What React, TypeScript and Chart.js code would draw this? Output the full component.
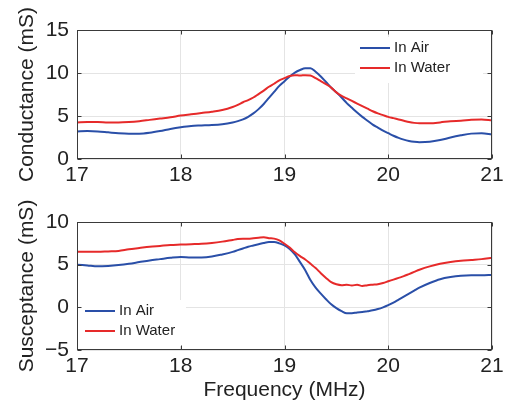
import React, { useEffect, useRef } from "react";
import { Chart, registerables } from "chart.js";
Chart.register(...registerables);

// ---------------- data ----------------
const freq = [
  17.0, 17.1, 17.2, 17.3, 17.4, 17.5, 17.6, 17.7, 17.8, 17.9,
  18.0, 18.1, 18.2, 18.3, 18.4,
  18.5, 18.55, 18.6, 18.65, 18.7, 18.75, 18.8, 18.85, 18.9, 18.95,
  19.0, 19.05, 19.1, 19.15, 19.2, 19.25, 19.3, 19.35, 19.4, 19.45,
  19.5, 19.55, 19.6, 19.65, 19.7, 19.75, 19.8, 19.85, 19.9, 19.95,
  20.0, 20.05, 20.1, 20.15, 20.2, 20.25, 20.3,
  20.4, 20.5, 20.6, 20.7, 20.8, 20.9, 21.0,
];
const condAir = [
  3.2, 3.25, 3.2, 3.1, 3.0, 2.95, 2.95, 3.05, 3.25, 3.5,
  3.7, 3.85, 3.9, 3.95, 4.05,
  4.25, 4.4, 4.6, 4.9, 5.3, 5.8, 6.4, 7.1, 7.8, 8.5,
  9.05, 9.6, 10.05, 10.35, 10.55, 10.55, 10.15, 9.6, 8.95, 8.3,
  7.75, 7.15, 6.5, 5.95, 5.4, 4.9, 4.45, 4.0, 3.65, 3.3,
  3.0, 2.7, 2.45, 2.25, 2.1, 2.0, 1.95,
  2.0, 2.2, 2.5, 2.75, 2.95, 3.0, 2.85,
];
const condWater = [
  4.25, 4.3, 4.3, 4.25, 4.25, 4.3, 4.4, 4.55, 4.7, 4.85,
  5.05, 5.2, 5.35, 5.5, 5.7,
  6.05, 6.3, 6.6, 6.85, 7.15, 7.55, 7.95, 8.4, 8.75, 9.15,
  9.4, 9.65, 9.75, 9.7, 9.75, 9.7, 9.4, 9.05, 8.7, 8.3,
  7.75, 7.35, 7.05, 6.75, 6.45, 6.15, 5.85, 5.55, 5.3, 5.1,
  4.9, 4.75, 4.6, 4.45, 4.3, 4.2, 4.15,
  4.15, 4.25, 4.4, 4.45, 4.55, 4.6, 4.5,
];
const suscAir = [
  5.0, 4.9, 4.8, 4.85, 4.95, 5.1, 5.3, 5.5, 5.65, 5.8,
  5.9, 5.85, 5.85, 5.95, 6.2,
  6.5, 6.7, 6.9, 7.1, 7.25, 7.4, 7.55, 7.65, 7.65, 7.5,
  7.25, 6.85, 6.2, 5.3, 4.35, 3.2, 2.3, 1.6, 0.95, 0.35,
  -0.1, -0.45, -0.7, -0.7, -0.6, -0.55, -0.45, -0.35, -0.2, 0.0,
  0.25, 0.55, 0.9, 1.25, 1.6, 1.95, 2.3,
  2.85, 3.3, 3.55, 3.7, 3.75, 3.75, 3.8,
];
const suscWater = [
  6.5, 6.5, 6.5, 6.55, 6.6, 6.8, 6.95, 7.1, 7.2, 7.3,
  7.35, 7.4, 7.45, 7.55, 7.7,
  7.9, 8.0, 8.05, 8.05, 8.1, 8.15, 8.2, 8.1, 8.05, 7.85,
  7.45, 7.0, 6.45, 6.0, 5.6, 5.1, 4.6, 4.0, 3.45, 2.95,
  2.7, 2.6, 2.65, 2.55, 2.65, 2.5, 2.6, 2.65, 2.7, 2.85,
  3.05, 3.25, 3.45, 3.65, 3.9, 4.15, 4.4,
  4.8, 5.1, 5.3, 5.45, 5.55, 5.65, 5.8,
];
const seriesLabels = ["In Air", "In Water"];
const xTicks = [17, 18, 19, 20, 21];
const condTicks = [0, 5, 10, 15];
const suscTicks = [-5, 0, 5, 10];
const xTitle = "Frequency (MHz)";
const condTitle = "Conductance (mS)";
const suscTitle = "Susceptance (mS)";

// ---------------- styles ----------------
const BLUE = "#2a4fa8";
const RED = "#e62a2a";
const FONT = "'Liberation Sans', Arial, Helvetica, sans-serif";
const W = 509;

const fmt = (v: number) => (v < 0 ? "\u2212" + Math.abs(v) : String(v));

function makeFramePlugin() {
  return {
    id: "frame",
    afterDraw(chart: any) {
      const { ctx, chartArea: a, scales } = chart;
      ctx.save();
      ctx.strokeStyle = "#3a3a3a";
      ctx.lineWidth = 1;
      const l = Math.round(a.left) + 0.5;
      const r = Math.round(a.right) - 0.5;
      const t = Math.round(a.top) + 0.5;
      const b = Math.round(a.bottom) - 0.5;
      ctx.strokeRect(l, t, r - l, b - t);
      const tl = 4;
      ctx.beginPath();
      scales.x.ticks.forEach((tk: any) => {
        const px = Math.round(scales.x.getPixelForValue(tk.value)) + 0.5;
        ctx.moveTo(px, b); ctx.lineTo(px, b - tl);
        ctx.moveTo(px, t); ctx.lineTo(px, t + tl);
      });
      scales.y.ticks.forEach((tk: any) => {
        const py = Math.round(scales.y.getPixelForValue(tk.value)) + 0.5;
        ctx.moveTo(l, py); ctx.lineTo(l + tl, py);
        ctx.moveTo(r, py); ctx.lineTo(r - tl, py);
      });
      ctx.stroke();
      ctx.restore();
    },
  };
}

function makeLegendPlugin(anchor: "topRight" | "bottomLeft") {
  return {
    id: "boxLegend",
    afterDatasetsDraw(chart: any) {
      const { ctx, chartArea: a } = chart;
      const ds = chart.data.datasets;
      let x0: number, y0: number, boxW: number;
      const boxH = 46;
      if (anchor === "topRight") {
        x0 = a.right - 137;
        y0 = a.top + 7;
        boxW = 128;
      } else {
        x0 = a.left + 3;
        y0 = a.bottom - 50;
        boxW = 106;
      }
      ctx.save();
      ctx.fillStyle = "#ffffff";
      ctx.fillRect(x0, y0, boxW, boxH);
      ctx.font = "15px " + FONT;
      ctx.textBaseline = "middle";
      ctx.textAlign = "left";
      [0, 1].forEach((i, k) => {
        const y = y0 + 11 + k * 20;
        ctx.strokeStyle = ds[i].borderColor;
        ctx.lineWidth = 2;
        ctx.beginPath();
        ctx.moveTo(x0 + 5, y);
        ctx.lineTo(x0 + 35, y);
        ctx.stroke();
        ctx.fillStyle = "#222222";
        ctx.fillText(ds[i].label, x0 + 39, y);
      });
      ctx.restore();
    },
  };
}

function buildChart(
  canvas: HTMLCanvasElement,
  air: number[],
  water: number[],
  yTicks: number[],
  yTitle: string,
  showXTitle: boolean,
  padTop: number,
  xAxisH: number,
  legendAnchor: "topRight" | "bottomLeft"
) {
  const mk = (vals: number[]) => freq.map((f, i) => ({ x: f, y: vals[i] }));
  return new Chart(canvas, {
    type: "line",
    data: {
      datasets: [
        {
          label: seriesLabels[0],
          data: mk(air),
          borderColor: BLUE,
          backgroundColor: BLUE,
          borderWidth: 2,
          pointRadius: 0,
          cubicInterpolationMode: "monotone",
          order: 1,
        },
        {
          label: seriesLabels[1],
          data: mk(water),
          borderColor: RED,
          backgroundColor: RED,
          borderWidth: 2,
          pointRadius: 0,
          cubicInterpolationMode: "monotone",
          order: 0,
        },
      ],
    },
    options: {
      responsive: false,
      animation: false,
      devicePixelRatio: 1,
      layout: { padding: { top: padTop, right: 17, left: 0, bottom: 0 } },
      plugins: { legend: { display: false }, tooltip: { enabled: false } },
      scales: {
        x: {
          type: "linear",
          min: xTicks[0],
          max: xTicks[xTicks.length - 1],
          afterBuildTicks: (s: any) => {
            s.ticks = xTicks.map((v) => ({ value: v }));
          },
          afterFit: (s: any) => {
            s.height = xAxisH;
          },
          ticks: {
            color: "#222222",
            font: { family: FONT, size: 21 },
            padding: 4,
            maxRotation: 0,
            autoSkip: false,
            callback: (v: any) => fmt(Number(v)),
          },
          grid: { color: "#e4e4e4", drawTicks: false, lineWidth: 1 },
          border: { display: false },
          title: {
            display: showXTitle,
            text: xTitle,
            color: "#222222",
            font: { family: FONT, size: 21 },
            padding: { top: 0, bottom: 1 },
          },
        },
        y: {
          type: "linear",
          min: yTicks[0],
          max: yTicks[yTicks.length - 1],
          afterBuildTicks: (s: any) => {
            s.ticks = yTicks.map((v) => ({ value: v }));
          },
          afterFit: (s: any) => {
            s.width = 77;
          },
          ticks: {
            color: "#222222",
            font: { family: FONT, size: 21 },
            padding: 8,
            autoSkip: false,
            callback: (v: any) => fmt(Number(v)),
          },
          grid: { color: "#e4e4e4", drawTicks: false, lineWidth: 1 },
          border: { display: false },
          title: {
            display: true,
            text: yTitle,
            color: "#222222",
            font: { family: FONT, size: 21 },
            padding: { top: 15, bottom: 0 },
          },
        },
      },
    },
    plugins: [makeLegendPlugin(legendAnchor), makeFramePlugin()],
  } as any);
}

export default function App() {
  const topRef = useRef<HTMLCanvasElement>(null);
  const botRef = useRef<HTMLCanvasElement>(null);

  useEffect(() => {
    const c1 = buildChart(topRef.current!, condAir, condWater, condTicks, condTitle, false, 30, 41, "topRight");
    const c2 = buildChart(botRef.current!, suscAir, suscWater, suscTicks, suscTitle, true, 22, 54, "bottomLeft");
    return () => {
      c1.destroy();
      c2.destroy();
    };
  }, []);

  return (
    <div style={{ position: "fixed", left: 0, top: 0, width: W, height: 404, background: "#ffffff" }}>
      <canvas ref={topRef} width={W} height={200} style={{ position: "absolute", left: 0, top: 0, width: W, height: 200 }} />
      <canvas ref={botRef} width={W} height={204} style={{ position: "absolute", left: 0, top: 200, width: W, height: 204 }} />
    </div>
  );
}
